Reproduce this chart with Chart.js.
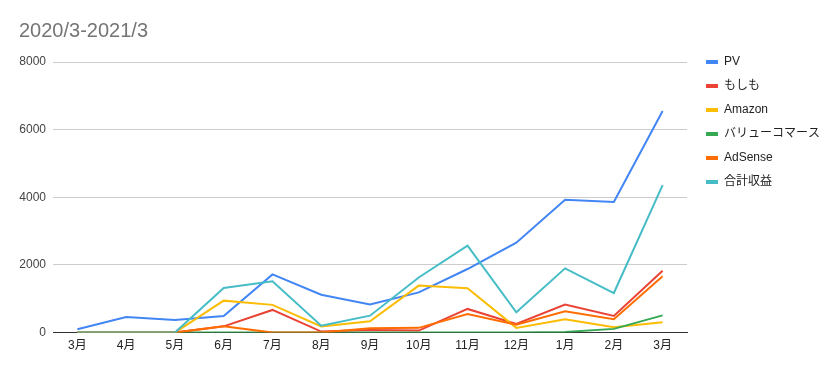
<!DOCTYPE html>
<html>
<head>
<meta charset="utf-8">
<script src="https://cdn.jsdelivr.net/npm/chart.js@4.4.1/dist/chart.umd.min.js"></script>
<style>
  html, body { margin: 0; padding: 0; background: #fff; }
  #wrap { width: 831px; height: 371px; position: relative; }
</style>
</head>
<body>
<div id="wrap"><canvas id="c"></canvas></div>
<script>
const months = ['3月','4月','5月','6月','7月','8月','9月','10月','11月','12月','1月','2月','3月'];
const pv = [100, 460, 370, 490, 1720, 1120, 830, 1190, 1880, 2660, 3930, 3860, 6550];
const moshimo = [0, 0, 0, 185, 670, 30, 80, 60, 700, 255, 830, 490, 1830];
const amazon = [0, 0, 0, 945, 820, 180, 335, 1390, 1310, 140, 395, 160, 305];
const valuecommerce = [0, 0, 0, 0, 0, 0, 0, 0, 0, 0, 20, 110, 510];
const adsense = [0, 0, 0, 185, 0, 0, 125, 140, 550, 235, 630, 395, 1665];
const total = [0, 0, 0, 1320, 1520, 205, 500, 1630, 2570, 600, 1900, 1170, 4360];
const yTicks = [0, 2000, 4000, 6000, 8000];

const FONT = "'Liberation Sans', Arial, 'Noto Sans CJK JP', sans-serif";
const series = [
  ['PV', pv, '#4285F4'],
  ['もしも', moshimo, '#EA4335'],
  ['Amazon', amazon, '#FBBC04'],
  ['バリューコマース', valuecommerce, '#34A853'],
  ['AdSense', adsense, '#FF6D01'],
  ['合計収益', total, '#46BDC6']
];

const datasets = series.map((s, i) => ({
  label: s[0],
  data: s[1],
  borderColor: s[2],
  backgroundColor: s[2],
  borderWidth: 2,
  pointRadius: 0,
  pointHoverRadius: 0,
  tension: 0,
  order: series.length - i
}));

new Chart(document.getElementById('c'), {
  type: 'line',
  data: { labels: months, datasets },
  options: {
    responsive: true,
    maintainAspectRatio: false,
    animation: false,
    layout: { padding: { left: 19, right: 2, top: 0, bottom: 12 } },
    plugins: {
      title: {
        display: true,
        text: '2020/3-2021/3',
        align: 'start',
        color: '#757575',
        font: { family: FONT, size: 20, weight: 'normal' },
        padding: { top: 19, bottom: 19 }
      },
      legend: {
        position: 'right',
        align: 'start',
        title: { display: true, text: '', padding: { top: 34, bottom: 0 }, font: { size: 10, lineHeight: 1 } },
        labels: {
          boxWidth: 12,
          boxHeight: 4,
          padding: 12,
          color: '#222',
          font: { family: FONT, size: 12 },
          sort: (a, b) => a.datasetIndex - b.datasetIndex,
          generateLabels: (chart) => Chart.defaults.plugins.legend.labels.generateLabels(chart).map(l => Object.assign(l, { lineWidth: 0 }))
        }
      },
      tooltip: { enabled: false }
    },
    scales: {
      x: {
        offset: true,
        grid: { display: false, drawTicks: false },
        border: { display: true, color: '#333', width: 1 },
        ticks: { color: '#222', font: { family: FONT, size: 12 }, padding: 6, maxRotation: 0, autoSkip: false }
      },
      y: {
        min: 0,
        max: 8000,
        afterBuildTicks: (s) => { s.ticks = yTicks.map(v => ({ value: v })); },
        afterFit: (s) => { s.width = 34; },
        grid: { color: '#ccc', drawTicks: false },
        border: { display: false },
        ticks: { color: '#444', font: { family: FONT, size: 12 }, padding: 7, callback: (v) => String(v) }
      },
      y2: {
        position: 'right',
        display: true,
        grid: { display: false, drawTicks: false },
        border: { display: false },
        ticks: { display: false },
        afterFit: (s) => { s.width = 7; }
      }
    }
  }
});
</script>
</body>
</html>
